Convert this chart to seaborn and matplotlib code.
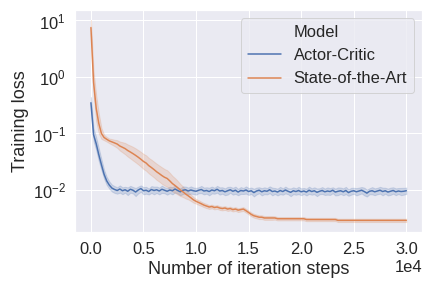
import numpy as np
import pandas as pd
import seaborn as sns
import matplotlib
matplotlib.use('Agg')
import matplotlib.pyplot as plt
from matplotlib.lines import Line2D

# iteration steps (every 250 steps)
steps = np.arange(0, 30001, 250)

# Actor-Critic mean loss
actor_critic = [
    0.35, 0.095, 0.066, 0.042, 0.028, 0.019, 0.0145, 0.0122, 0.0108, 0.0102,
    0.0098, 0.0104, 0.0097, 0.0101, 0.0095, 0.0103, 0.0099, 0.0092, 0.0100, 0.0106,
    0.0097, 0.0099, 0.0094, 0.0102, 0.0098, 0.0101, 0.0096, 0.0103, 0.0099, 0.0095,
    0.0100, 0.0097, 0.0104, 0.0098, 0.0093, 0.0099, 0.0101, 0.0096, 0.0100, 0.0097,
    0.0095, 0.0099, 0.0102, 0.0096, 0.0098, 0.0094, 0.0100, 0.0097, 0.0103, 0.0096,
    0.0098, 0.0093, 0.0097, 0.0101, 0.0095, 0.0099, 0.0092, 0.0098, 0.0096, 0.0100,
    0.0094, 0.0097, 0.0090, 0.0096, 0.0099, 0.0093, 0.0097, 0.0095, 0.0101, 0.0094,
    0.0096, 0.0092, 0.0098, 0.0094, 0.0100, 0.0095, 0.0091, 0.0097, 0.0094, 0.0098,
    0.0093, 0.0096, 0.0092, 0.0099, 0.0094, 0.0097, 0.0091, 0.0095, 0.0098, 0.0093,
    0.0096, 0.0094, 0.0099, 0.0092, 0.0095, 0.0097, 0.0093, 0.0098, 0.0090, 0.0095,
    0.0097, 0.0093, 0.0096, 0.0099, 0.0094, 0.0088, 0.0095, 0.0097, 0.0093, 0.0096,
    0.0099, 0.0094, 0.0097, 0.0092, 0.0095, 0.0098, 0.0093, 0.0096, 0.0094, 0.0095, 0.0097,
]

# State-of-the-Art mean loss
state_of_art = [
    7.5, 0.8, 0.28, 0.15, 0.10, 0.085, 0.079, 0.074, 0.071, 0.068,
    0.065, 0.060, 0.057, 0.054, 0.050, 0.047, 0.044, 0.041, 0.038, 0.035,
    0.032, 0.030, 0.027, 0.025, 0.023, 0.021, 0.0195, 0.018, 0.0168, 0.016,
    0.0145, 0.013, 0.012, 0.011, 0.0100, 0.0093, 0.0085, 0.0079, 0.0073, 0.0067,
    0.0063, 0.0060, 0.0057, 0.0054, 0.0052, 0.0050, 0.0051, 0.0049, 0.0050, 0.0048,
    0.0047, 0.0048, 0.0046, 0.0047, 0.0045, 0.0046, 0.0044, 0.0045, 0.0046, 0.0043,
    0.0040, 0.0037, 0.0035, 0.0034, 0.0033, 0.0033, 0.0032, 0.0032, 0.0032, 0.0032,
    0.0032, 0.0031, 0.0031, 0.0031, 0.0031, 0.0031, 0.0031, 0.0031, 0.0031, 0.0031,
    0.0031, 0.0031, 0.0030, 0.0030, 0.0030, 0.0030, 0.0030, 0.0030, 0.0030, 0.0030,
    0.0030, 0.0030, 0.0030, 0.0030, 0.0029, 0.0029, 0.0029, 0.0029, 0.0029, 0.0029,
    0.0029, 0.0029, 0.0029, 0.0029, 0.0029, 0.0029, 0.0029, 0.0029, 0.0029, 0.0029,
    0.0029, 0.0029, 0.0029, 0.0029, 0.0029, 0.0029, 0.0029, 0.0029, 0.0029, 0.0029, 0.0029,
]

# spread of the runs around the mean (multiplicative)
actor_critic_spread = [
    1.25, 1.30, 1.30, 1.30, 1.25, 1.20, 1.18, 1.16, 1.15, 1.15,
    1.14, 1.16, 1.15, 1.13, 1.17, 1.15, 1.14, 1.18, 1.15, 1.14,
    1.16, 1.15, 1.13, 1.15, 1.17, 1.14, 1.15, 1.16, 1.13, 1.15,
    1.14, 1.16, 1.15, 1.13, 1.15, 1.17, 1.14, 1.15, 1.16, 1.14,
    1.15, 1.13, 1.16, 1.15, 1.14, 1.17, 1.15, 1.13, 1.15, 1.16,
    1.14, 1.15, 1.17, 1.13, 1.15, 1.16, 1.14, 1.15, 1.13, 1.16,
    1.15, 1.14, 1.17, 1.15, 1.13, 1.16, 1.15, 1.14, 1.15, 1.17,
    1.13, 1.15, 1.16, 1.14, 1.15, 1.13, 1.17, 1.15, 1.14, 1.16,
    1.15, 1.13, 1.15, 1.16, 1.14, 1.15, 1.17, 1.13, 1.15, 1.14,
    1.16, 1.15, 1.13, 1.15, 1.17, 1.14, 1.15, 1.16, 1.14, 1.15,
    1.13, 1.16, 1.15, 1.14, 1.17, 1.15, 1.13, 1.16, 1.15, 1.14,
    1.15, 1.17, 1.13, 1.15, 1.16, 1.14, 1.15, 1.13, 1.16, 1.15, 1.14,
]

state_of_art_spread = [
    1.35, 1.60, 1.70, 1.50, 1.25, 1.12, 1.10, 1.10, 1.12, 1.14,
    1.17, 1.20, 1.23, 1.26, 1.28, 1.30, 1.32, 1.33, 1.34, 1.35,
    1.36, 1.37, 1.37, 1.38, 1.38, 1.39, 1.39, 1.40, 1.40, 1.40,
    1.39, 1.37, 1.35, 1.32, 1.28, 1.24, 1.20, 1.16, 1.14, 1.12,
    1.10, 1.10, 1.09, 1.09, 1.09, 1.08, 1.08, 1.08, 1.08, 1.08,
    1.08, 1.08, 1.08, 1.08, 1.08, 1.08, 1.08, 1.08, 1.08, 1.08,
    1.08, 1.08, 1.08, 1.08, 1.08, 1.08, 1.08, 1.08, 1.08, 1.08,
    1.07, 1.07, 1.07, 1.07, 1.07, 1.07, 1.07, 1.07, 1.07, 1.07,
    1.07, 1.07, 1.07, 1.07, 1.07, 1.07, 1.07, 1.07, 1.07, 1.07,
    1.07, 1.07, 1.07, 1.07, 1.07, 1.07, 1.07, 1.07, 1.07, 1.07,
    1.07, 1.07, 1.07, 1.07, 1.07, 1.07, 1.07, 1.07, 1.07, 1.07,
    1.07, 1.07, 1.07, 1.07, 1.07, 1.07, 1.07, 1.07, 1.07, 1.07, 1.07,
]

models = ['Actor-Critic', 'State-of-the-Art']


def build_frame():
    '''
    Builds a long dataframe with a low, middle and high run for each model.
    '''
    rows = []
    for name, mean, spread in [(models[0], actor_critic, actor_critic_spread),
                               (models[1], state_of_art, state_of_art_spread)]:
        mean = np.array(mean)
        spread = np.array(spread)
        for run, vals in enumerate([mean / spread, mean, mean * spread]):
            rows.append(pd.DataFrame({'step': steps, 'loss': vals,
                                      'Model': name, 'run': run}))
    return pd.concat(rows, ignore_index=True)


df = build_frame()

sns.set(font_scale=1.5)
plt.rcParams['font.family'] = ['Liberation Sans', 'DejaVu Sans']
plt.rcParams['mathtext.fontset'] = 'custom'
plt.rcParams['mathtext.rm'] = 'Liberation Sans'
plt.rcParams['mathtext.it'] = 'Liberation Sans:italic'
plt.rcParams['mathtext.bf'] = 'Liberation Sans:bold'

fig, ax = plt.subplots(figsize=(6, 4), dpi=72)
sns.lineplot(x='step', y='loss', hue='Model', data=df, ax=ax,
             estimator='median', errorbar=('pi', 100), linewidth=1.5)
ax.set_yscale('log')
ax.ticklabel_format(style='sci', axis='x', scilimits=(0, 0))
ax.set_xlabel('Number of iteration steps')
ax.set_ylabel('Training loss')

# old-style seaborn legend: the title is the first entry
handles, labels = ax.get_legend_handles_labels()
blank = Line2D([], [], linestyle='none')
ax.legend([blank] + handles, ['Model'] + labels, loc='upper right')

plt.subplots_adjust(left=0.174, right=0.977, top=0.965, bottom=0.194)
fig.savefig('out.png', dpi=72)
